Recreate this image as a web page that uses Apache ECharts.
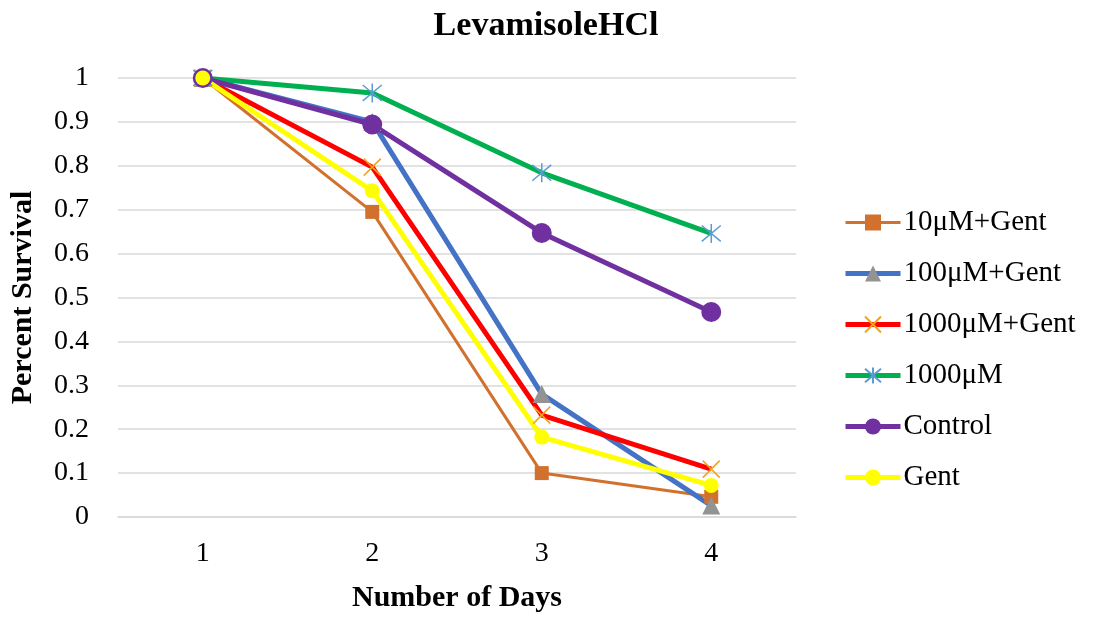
<!DOCTYPE html>
<html>
<head>
<meta charset="utf-8">
<script src="https://cdn.jsdelivr.net/npm/echarts@6/dist/echarts.min.js"></script>
<style>
  html, body { margin: 0; padding: 0; background: #fff; }
  #chart { width: 1094px; height: 619px; }
</style>
</head>
<body>
<div id="chart"></div>
<script>
// Days of treatment
const days = ['1', '2', '3', '4'];

// Survival fraction per group
const s10Gent = [1, 0.695, 0.10, 0.046];
const s100Gent = [1, 0.90, 0.28, 0.026];
const s1000Gent = [1, 0.797, 0.232, 0.109];
const s1000 = [1, 0.966, 0.784, 0.646];
const sControl = [1, 0.894, 0.647, 0.467];
const sGent = [1, 0.743, 0.182, 0.072];

const seriesNames = ['10μM+Gent', '100μM+Gent', '1000μM+Gent', '1000μM', 'Control', 'Gent'];

const FONT = '"Liberation Serif", "Times New Roman", serif';
const crossPath = 'path://M0,0L10,10M10,0L0,10';
const starPath = 'path://M0,0L10,10M10,0L0,10M5,-1L5,11';

function lineSeries(name, data, lineColor, width, symbol, size, fill, stroke) {
  return {
    name: name,
    type: 'line',
    data: data,
    symbol: symbol,
    symbolSize: size,
    showAllSymbol: true,
    lineStyle: { color: lineColor, width: width },
    itemStyle: stroke
      ? { color: fill, borderColor: stroke, borderWidth: 1.5 }
      : { color: fill, borderWidth: 0 },
    emphasis: { disabled: true },
    animation: false
  };
}

const chart = echarts.init(document.getElementById('chart'));
chart.setOption({
  backgroundColor: '#ffffff',
  title: {
    text: 'LevamisoleHCl',
    left: 541,
    textAlign: 'center',
    top: 4,
    textStyle: { fontFamily: FONT, fontSize: 34, fontWeight: 'bold', color: '#000' }
  },
  legend: {
    orient: 'vertical',
    left: 838,
    top: 203,
    itemWidth: 55,
    itemHeight: 20,
    itemGap: 22,
    data: seriesNames,
    lineStyle: { width: 'inherit' },
    textStyle: { fontFamily: FONT, fontSize: 29, color: '#000', padding: [0, 0, 0, -2] }
  },
  grid: { left: 116, right: 298, top: 78, bottom: 102, containLabel: false },
  xAxis: {
    type: 'category',
    data: days,
    boundaryGap: true,
    name: 'Number of Days',
    nameLocation: 'middle',
    nameGap: 66,
    nameTextStyle: { fontFamily: FONT, fontSize: 30, fontWeight: 'bold', color: '#000' },
    axisLine: { show: true, lineStyle: { color: '#d9d9d9', width: 1.5 } },
    axisTick: { show: false },
    axisLabel: { fontFamily: FONT, fontSize: 28, color: '#000', margin: 23 }
  },
  yAxis: {
    type: 'value',
    min: 0,
    max: 1,
    interval: 0.1,
    name: 'Percent Survival',
    nameLocation: 'middle',
    nameGap: 80,
    nameTextStyle: { fontFamily: FONT, fontSize: 30, fontWeight: 'bold', color: '#000' },
    axisLine: { show: false },
    axisTick: { show: false },
    axisLabel: {
      fontFamily: FONT, fontSize: 28, color: '#000', margin: 29,
      formatter: v => String(Math.round(v * 10) / 10)
    },
    splitLine: { lineStyle: { color: '#d9d9d9', width: 1.5 } }
  },
  series: [
    lineSeries(seriesNames[0], s10Gent, '#D2712E', 3, 'rect', 14, '#D2712E'),
    lineSeries(seriesNames[1], s100Gent, '#4472C4', 5, 'triangle', 18, '#939393'),
    lineSeries(seriesNames[2], s1000Gent, '#FF0000', 5, crossPath, 17, 'rgba(0,0,0,0)', '#F2A31B'),
    lineSeries(seriesNames[3], s1000, '#00B050', 5, starPath, 19, 'rgba(0,0,0,0)', '#5B9BD5'),
    lineSeries(seriesNames[4], sControl, '#7030A0', 5, 'circle', 20, '#7030A0'),
    lineSeries(seriesNames[5], sGent, '#FFFF00', 5, 'circle', 15, '#FFFF00')
  ]
});
</script>
</body>
</html>
